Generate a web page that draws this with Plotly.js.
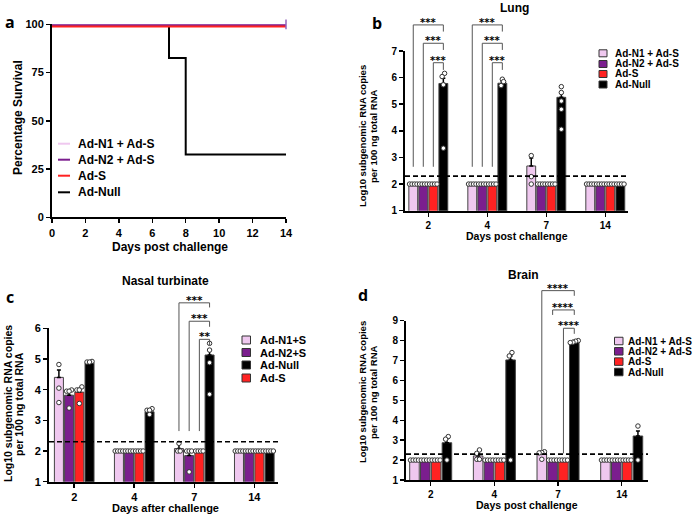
<!DOCTYPE html>
<html><head><meta charset="utf-8">
<script src="https://cdn.plot.ly/plotly-3.0.1.min.js"></script>
<style>html,body{margin:0;padding:0;background:#fff}#chart{width:700px;height:515px}</style>
</head><body><div id="chart"></div>
<script>
// ================= DATA =================
// Panel a: survival (%)
const survDays = [0, 7, 8, 14];
const survN1S  = [100, 100, 100, 100];
const survN2S  = [99.6, 99.6, 99.6, 99.6];
const survS    = [98.8, 98.8, 98.8, 98.8];
const survNull = [99.1, 82.5, 32.5, 32.5];
const survTicksX = [0, 2, 4, 6, 8, 10, 12, 14];
const survTicksY = [0, 25, 50, 75, 100];
const survNames = ['Ad-N1 + Ad-S', 'Ad-N2 + Ad-S', 'Ad-S', 'Ad-Null'];

// Days (categories) for b, c, d
const days = ['2', '4', '7', '14'];
const namesBD = ['Ad-N1 + Ad-S', 'Ad-N2 + Ad-S', 'Ad-S', 'Ad-Null'];
const namesC  = ['Ad-N1+S', 'Ad-N2+S', 'Ad-Null', 'Ad-S'];

// Panel b: Lung (log10 copies), bar order: N1, N2, S, Null
const lungN1S  = [2, 2, 2.68, 2];
const lungN2S  = [2, 2, 2, 2];
const lungS    = [2, 2, 2, 2];
const lungNull = [5.78, 5.79, 5.26, 2];
const lungN1SErr  = [0, 0, 0.30, 0];
const lungN2SErr  = [0, 0, 0, 0];
const lungSErr    = [0, 0, 0, 0];
const lungNullErr = [0.20, 0.08, 0.18, 0];
const lungN1SPts  = [[2,2,2,2],[2,2,2,2],[3.07,2.28,2.0],[2,2,2,2]];
const lungN2SPts  = [[2,2,2,2],[2,2,2,2],[2,2,2,2],[2,2,2,2]];
const lungSPts    = [[2,2,2,2],[2,2,2,2],[2,2,2,2],[2,2,2,2]];
const lungNullPts = [[6.16,6.04,5.73,3.35],[5.94,5.85,5.70],[5.66,5.44,5.12,4.81,4.06],[2,2,2,2]];

// Panel c: Nasal turbinate, bar order: N1, N2, S, Null
const nasN1S  = [4.40, 2, 2.08, 2];
const nasN2S  = [3.82, 2, 1.85, 2];
const nasS    = [3.92, 2, 2, 2];
const nasNull = [4.88, 3.28, 5.13, 2];
const nasN1SErr  = [0.24, 0, 0.17, 0];
const nasN2SErr  = [0.12, 0, 0.15, 0];
const nasSErr    = [0.12, 0, 0, 0];
const nasNullErr = [0.04, 0.05, 0.18, 0];
const nasN1SPts  = [[4.82,4.05,3.58],[2,2,2,2],[2.25,2.0,2.0],[2,2,2,2]];
const nasN2SPts  = [[3.99,3.95,3.95,3.40],[2,2,2,2],[2,2,2,1.32],[2,2,2,2]];
const nasSPts    = [[4.09,3.99,3.99,3.55],[2,2,2,2],[2,2,2,2],[2,2,2,2]];
const nasNullPts = [[4.92,4.90,4.90],[3.38,3.33,3.33,3.19],[5.51,5.29,4.88,3.85],[2,2,2,2]];

// Panel d: Brain, bar order: N1, N2, S, Null
const brN1S  = [2, 2.21, 2.31, 2];
const brN2S  = [2, 2, 2, 2];
const brS    = [2, 2, 2, 2];
const brNull = [2.87, 7.03, 7.95, 3.21];
const brN1SErr  = [0, 0.12, 0.05, 0];
const brN2SErr  = [0, 0, 0, 0];
const brSErr    = [0, 0, 0, 0];
const brNullErr = [0.22, 0.20, 0.05, 0.25];
const brN1SPts  = [[2,2,2,2],[2.51,2.34,2.04,2.04],[2.42,2.38,2.36,2.04],[2,2,2,2]];
const brN2SPts  = [[2,2,2,2],[2,2,2,2],[2,2,2,2],[2,2,2,2]];
const brSPts    = [[2,2,2,2],[2,2,2,2],[2,2,2,2],[2,2,2,2]];
const brNullPts = [[3.18,3.05,2.0],[7.40,7.23,2.0],[8.0,7.97,7.92,7.90],[3.71,2.0]];

const LOD = 2.3;

// ================= STYLE / LAYOUT HELPERS =================
const W = 700, H = 515;
const FONT = 'Liberation Sans, Arial, sans-serif';
const C = {pink:'#EFC8EF', purple:'#7B1E8E', red:'#FF2222', black:'#000000'};
const barColors = [C.pink, C.purple, C.red, C.black];
const STEP = 0.17, BW = 0.15, DX = 0.042;
const px = x => x / W;
const py = y => 1 - y / H;

const traces = [];
const shapes = [];
const annotations = [];

function barX(g, k) { return g + (k - 1.5) * STEP; }

function spreadX(center, vals, tol) {
  const idx = vals.map((v, i) => i).sort((a, b) => vals[a] - vals[b]);
  const xs = new Array(vals.length);
  let i = 0;
  while (i < idx.length) {
    let j = i;
    while (j + 1 < idx.length && vals[idx[j + 1]] - vals[idx[i]] < tol) j++;
    const n = j - i + 1;
    for (let q = 0; q < n; q++) xs[idx[i + q]] = center + (q - (n - 1) / 2) * DX;
    i = j + 1;
  }
  return xs;
}

function barPanel(n, means, errs, pts, tol) {
  const xa = 'x' + n, ya = 'y' + n;
  means.forEach((m, k) => {
    traces.push({
      type: 'bar', xaxis: xa, yaxis: ya, showlegend: false,
      x: days.map((d, g) => barX(g, k)), y: m, width: BW,
      marker: {color: barColors[k], line: {color: '#444', width: 1}},
      error_y: {type: 'data', symmetric: false, array: errs[k], arrayminus: m.map(() => 0),
                color: '#000', thickness: 1.5, width: 2}
    });
  });
  pts.forEach((series, k) => {
    const xs = [], ys = [];
    series.forEach((vals, g) => {
      const sx = spreadX(barX(g, k), vals, tol);
      vals.forEach((v, i) => { xs.push(sx[i]); ys.push(v); });
    });
    traces.push({
      type: 'scatter', mode: 'markers', xaxis: xa, yaxis: ya, showlegend: false,
      x: xs, y: ys, cliponaxis: false,
      marker: {symbol: 'circle', size: 4.5, color: '#fff', line: {color: '#333', width: 1}}
    });
  });
  shapes.push({type: 'line', xref: xa + ' domain', yref: ya, x0: 0, x1: 1, y0: LOD, y1: LOD,
               line: {color: '#000', width: 1.6, dash: '5px,3px'}});
}

function yf(v, r) { return (v - r[0]) / (r[1] - r[0]); }

function brackets(n, range, list, fs) {
  const xa = 'x' + n, ya = 'y' + n;
  list.forEach(b => {
    const [g, k, footL, top, footR, label] = b;
    const xl = barX(g, k), xr = barX(g, 3);
    shapes.push({type: 'path', xref: xa, yref: ya + ' domain',
      path: `M ${xl},${yf(footL, range)} V ${yf(top, range)} H ${xr} V ${yf(footR, range)}`,
      line: {color: '#555', width: 1}});
    annotations.push({xref: xa, yref: ya + ' domain', x: (xl + xr) / 2, y: yf(top, range),
      text: label, showarrow: false, yanchor: 'bottom', yshift: -5,
      font: {family: 'DejaVu Sans, sans-serif', size: fs, color: '#000', weight: 'bold'}});
  });
}

function txt(x, y, text, size, opts) {
  annotations.push(Object.assign({xref: 'paper', yref: 'paper', x: px(x), y: py(y), text: text,
    showarrow: false, xanchor: 'center', yanchor: 'middle',
    font: {family: FONT, size: size, color: '#000', weight: 'bold'}}, opts || {}));
}

function legendBoxes(x0, w, h, ys, names, colors, textX, size) {
  ys.forEach((y, i) => {
    shapes.push({type: 'rect', xref: 'paper', yref: 'paper', x0: px(x0), x1: px(x0 + w),
      y0: py(y + h / 2), y1: py(y - h / 2), fillcolor: colors[i], line: {color: '#333', width: 1}});
    txt(textX, y, names[i], size, {xanchor: 'left'});
  });
}

// two-line rotated axis title drawn line by line
function yTitle(x1, x2, y, lines, size) {
  txt(x1, y, lines[0], size, {textangle: -90});
  txt(x2, y, lines[1], size, {textangle: -90});
}

// ================= PANEL a =================
const survSeries = [survNull, survN1S, survN2S, survS];
const survColors = [C.black, C.pink, C.purple, C.red];
survSeries.forEach((s, i) => {
  traces.push({type: 'scatter', mode: 'lines', x: survDays, y: s, xaxis: 'x', yaxis: 'y',
    line: {shape: 'hv', color: survColors[i], width: 2}, cliponaxis: false, showlegend: false});
});
traces.push({type: 'scatter', mode: 'markers', x: [survDays[survDays.length - 1]],
  y: [survN1S[survN1S.length - 1]], xaxis: 'x', yaxis: 'y', cliponaxis: false, showlegend: false,
  marker: {symbol: 'line-ns-open', size: 7, line: {color: '#666', width: 1.5}}});
// legend a (lines)
[143.7, 159.7, 175.7, 192.3].forEach((y, i) => {
  shapes.push({type: 'line', xref: 'paper', yref: 'paper', x0: px(58), x1: px(70), y0: py(y), y1: py(y),
    line: {color: [C.pink, C.purple, C.red, C.black][i], width: 2}});
  txt(76, y, survNames[i], 12, {xanchor: 'left'});
});

// ================= PANELS b, c, d =================
barPanel(2, [lungN1S, lungN2S, lungS, lungNull],
  [lungN1SErr, lungN2SErr, lungSErr, lungNullErr],
  [lungN1SPts, lungN2SPts, lungSPts, lungNullPts], 0.15);
barPanel(3, [nasN1S, nasN2S, nasS, nasNull],
  [nasN1SErr, nasN2SErr, nasSErr, nasNullErr],
  [nasN1SPts, nasN2SPts, nasSPts, nasNullPts], 0.13);
barPanel(4, [brN1S, brN2S, brS, brNull],
  [brN1SErr, brN2SErr, brSErr, brNullErr],
  [brN1SPts, brN2SPts, brSPts, brNullPts], 0.2);

const rangeB = [1, 7], rangeC = [1, 6], rangeD = [1, 9];
brackets(2, rangeB, [
  [0, 0, 2.65, 7.98, 7.73, '***'], [0, 1, 2.65, 7.29, 7.04, '***'], [0, 2, 2.65, 6.56, 6.29, '***'],
  [1, 0, 2.65, 7.98, 7.73, '***'], [1, 1, 2.65, 7.29, 7.04, '***'], [1, 2, 2.65, 6.56, 6.29, '***']], 10);
brackets(3, rangeC, [
  [2, 0, 2.65, 6.83, 6.68, '***'], [2, 1, 2.65, 6.23, 6.05, '***'], [2, 2, 2.65, 5.64, 5.45, '**']], 10.5);
brackets(4, rangeD, [
  [2, 0, 2.51, 10.51, 10.25, '****'], [2, 1, 9.29, 9.54, 9.29, '****'], [2, 2, 2.34, 8.62, 8.34, '****']], 10);

// legends
legendBoxes(599, 8, 7, [53.3, 64, 74, 84.5], namesBD, barColors, 612.5, 10);
legendBoxes(242, 8.5, 8, [340, 352.5, 365, 378], namesC, [C.pink, C.purple, C.black, C.red], 258, 11);
legendBoxes(614.5, 8.5, 7.5, [341, 351.3, 361.6, 372], namesBD, barColors, 626, 10);

// titles & labels
const letterFont = {family: 'Open Sans, sans-serif', size: 16, color: '#000', weight: 'bold'};
txt(10, 22, 'a', 16, {font: letterFont});
txt(377, 23, 'b', 16, {font: letterFont});
txt(10, 297, 'c', 16, {font: letterFont});
txt(363, 295, 'd', 16, {font: letterFont});
txt(514, 8, 'Lung', 12);
txt(165, 281, 'Nasal turbinate', 12);
txt(523, 275, 'Brain', 12);
txt(18, 118, 'Percentage Survival', 12, {textangle: -90});
txt(170, 247, 'Days post challenge', 12);
const yLines = ['Log10 subgenomic RNA copies', 'per 100 ng total RNA'];
yTitle(363, 374, 136, yLines, 9.5);
txt(517, 236, 'Days post challenge', 10.5);
yTitle(8, 19, 404, yLines, 10.5);
txt(165, 508, 'Days after challenge', 11);
yTitle(362, 373, 392, yLines, 9.5);
txt(527, 505, 'Days post challenge', 10.5);

// ================= AXES =================
function axisBase(fs) {
  return {showline: true, linewidth: 2, linecolor: '#000', ticks: 'outside', ticklen: 4,
    tickwidth: 1.5, tickcolor: '#000', showgrid: false, zeroline: false, fixedrange: true,
    tickfont: {family: FONT, size: fs, color: '#000', weight: 'bold'}};
}
function catX(domain, range, yAnchor, fs) {
  return Object.assign(axisBase(fs), {domain: domain, range: range, anchor: yAnchor,
    tickvals: days.map((d, g) => g), ticktext: days});
}
function linY(domain, range, xAnchor, fs) {
  return Object.assign(axisBase(fs), {domain: domain, range: range, anchor: xAnchor, dtick: 1});
}

const layout = {
  width: W, height: H, margin: {l: 0, r: 0, t: 0, b: 0},
  paper_bgcolor: '#fff', plot_bgcolor: 'rgba(0,0,0,0)',
  barmode: 'overlay', showlegend: false,
  xaxis: Object.assign(axisBase(11), {domain: [px(52), px(286)], range: [0, 14], tickvals: survTicksX, anchor: 'y'}),
  yaxis: Object.assign(axisBase(11), {domain: [py(217.3), py(24.3)], range: [0, 100], tickvals: survTicksY, anchor: 'x'}),
  xaxis2: catX([px(405), px(628)], [-0.395, 3.385], 'y2', 10),
  yaxis2: linY([py(210.7), py(51)], rangeB, 'x2', 10),
  xaxis3: catX([px(49), px(278)], [-0.42, 3.395], 'y3', 11),
  yaxis3: linY([py(481.7), py(328.3)], rangeC, 'x3', 11),
  xaxis4: catX([px(406), px(648)], [-0.388, 3.413], 'y4', 10),
  yaxis4: linY([py(480), py(320.7)], rangeD, 'x4', 10),
  shapes: shapes, annotations: annotations
};

Plotly.newPlot('chart', traces, layout, {displayModeBar: false, staticPlot: true});
</script></body></html>
